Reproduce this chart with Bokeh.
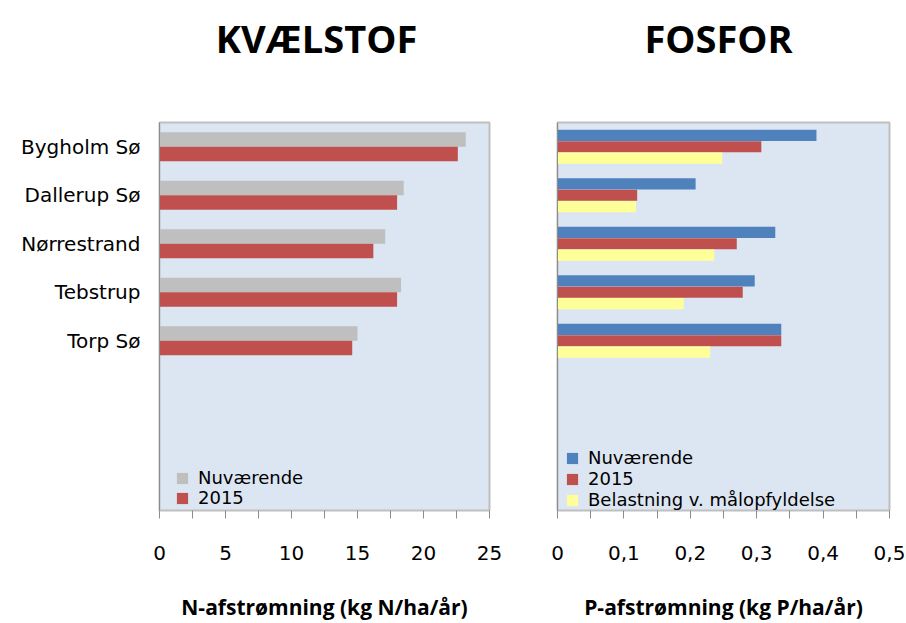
from bokeh.plotting import figure
from bokeh.models import (ColumnDataSource, Range1d, FixedTicker, Legend,
                          LegendItem, CustomJSTickFormatter)
from bokeh.core.properties import value
from bokeh.transform import dodge
from bokeh.layouts import row, column
from bokeh.embed import file_html
from bokeh.resources import INLINE

# ---- data ----
lakes = ["Bygholm Sø", "Dallerup Sø", "Nørrestrand", "Tebstrup", "Torp Sø"]
n_slots = 8  # five lakes plus three empty slots under them (legend area)

n_current = [23.2, 18.5, 17.1, 18.3, 15.0]
n_2015 = [22.6, 18.0, 16.2, 18.0, 14.6]

p_current = [0.39, 0.208, 0.328, 0.297, 0.337]
p_2015 = [0.307, 0.120, 0.270, 0.279, 0.337]
p_target = [0.248, 0.118, 0.236, 0.190, 0.230]

n_ticks = [0, 5, 10, 15, 20, 25]
n_minor = [2.5, 7.5, 12.5, 17.5, 22.5]
p_ticks = [0, 0.1, 0.2, 0.3, 0.4, 0.5]
p_minor = [0.05, 0.15, 0.25, 0.35, 0.45]

title_n = "KVÆLSTOF"
title_p = "FOSFOR"
xlabel_n = "N-afstrømning (kg N/ha/år)"
xlabel_p = "P-afstrømning (kg P/ha/år)"
label_current = "Nuværende"
label_2015 = "2015"
label_target = "Belastning v. målopfyldelse"

FONT = "DejaVu Sans"
BOLD = "Open Sans"
BG = "#DCE6F2"

W1, W2 = 510, 396
TITLE_H = 74
MAIN_H = 623 - TITLE_H

pos = [i + 0.5 for i in range(len(lakes))]

n_src = ColumnDataSource(dict(pos=pos, lake=lakes, cur=n_current, y15=n_2015))
p_src = ColumnDataSource(dict(pos=pos, lake=lakes, cur=p_current, y15=p_2015, tgt=p_target))


def title_fig(width, text, cx):
    t = figure(width=width, height=TITLE_H, output_backend="svg", toolbar_location=None,
               x_range=Range1d(0, width), y_range=Range1d(0, TITLE_H),
               x_axis_type=None, y_axis_type=None,
               min_border_left=0, min_border_right=0, min_border_top=0, min_border_bottom=0)
    t.outline_line_color = None
    t.background_fill_color = "white"
    t.border_fill_color = "white"
    t.xgrid.visible = False
    t.ygrid.visible = False
    t.text(x=[cx], y=[TITLE_H / 2], text=[text], text_align="center", text_baseline="middle",
           text_font=value(BOLD), text_font_style="bold", text_font_size="38px",
           text_color="black")
    return t


def style(p, xlabel, ticks, minor):
    p.background_fill_color = BG
    p.border_fill_color = "white"
    p.outline_line_color = "#BFBFBF"
    p.outline_line_width = 2
    p.xgrid.visible = False
    p.ygrid.visible = False
    ax = p.xaxis[0]
    ax.ticker = FixedTicker(ticks=ticks, minor_ticks=minor)
    ax.axis_label = xlabel
    ax.axis_label_text_font = BOLD
    ax.axis_label_text_font_style = "bold"
    ax.axis_label_text_font_size = "21px"
    ax.axis_label_text_color = "black"
    ax.axis_label_standoff = 30
    ax.major_label_text_font = FONT
    ax.major_label_text_font_size = "20px"
    ax.major_label_text_color = "black"
    ax.major_label_standoff = 27
    ax.axis_line_color = "#BFBFBF"
    ax.major_tick_line_color = "#8C8C8C"
    ax.minor_tick_line_color = "#8C8C8C"
    ax.major_tick_in = 0
    ax.major_tick_out = 8
    ax.minor_tick_in = 0
    ax.minor_tick_out = 8
    ay = p.yaxis[0]
    ay.axis_line_color = "#8C8C8C"
    ay.major_tick_line_color = None
    ay.minor_tick_line_color = None
    ay.major_tick_out = 0
    ay.major_tick_in = 0
    ay.minor_tick_out = 0
    ay.minor_tick_in = 0
    ay.major_label_text_font = FONT
    ay.major_label_text_font_size = "20px"
    ay.major_label_text_color = "black"
    ay.major_label_standoff = 19


def legend_row(p, label, renderer, x, y):
    leg = Legend(items=[LegendItem(label=label, renderers=[renderer])],
                 location=(x, y), orientation="vertical", padding=0, margin=0, spacing=0,
                 glyph_width=14, glyph_height=14, label_height=14, label_standoff=9,
                 label_text_font=FONT, label_text_font_size="18px", label_text_color="black",
                 background_fill_alpha=0, border_line_color=None)
    p.add_layout(leg)


# ---- titles ----
t1 = title_fig(W1, title_n, 316)
t2 = title_fig(W2, title_p, 208)

# ---- left: nitrogen ----
p1 = figure(width=W1, height=MAIN_H, output_backend="svg", toolbar_location=None,
            x_range=Range1d(0, 25), y_range=Range1d(n_slots, 0),
            min_border_left=159, min_border_right=21, min_border_top=48, min_border_bottom=112)
r1 = p1.hbar(y=dodge("pos", -0.15), right="cur", left=0, height=0.3,
             source=n_src, fill_color="#BFBFBF", line_color=None)
r2 = p1.hbar(y=dodge("pos", 0.15), right="y15", left=0, height=0.3,
             source=n_src, fill_color="#C0504D", line_color=None)
style(p1, xlabel_n, n_ticks, n_minor)
p1.yaxis[0].ticker = FixedTicker(ticks=pos, minor_ticks=[])
p1.yaxis[0].major_label_overrides = dict(zip(pos, lakes))
legend_row(p1, label_current, r1, 16, 22)
legend_row(p1, label_2015, r2, 16, 2)

# ---- right: phosphorus ----
p2 = figure(width=W2, height=MAIN_H, output_backend="svg", toolbar_location=None,
            x_range=Range1d(0, 0.5), y_range=Range1d(n_slots, 0),
            min_border_left=47, min_border_right=17, min_border_top=48, min_border_bottom=112)
s1 = p2.hbar(y=dodge("pos", -0.235), right="cur", left=0, height=0.23,
             source=p_src, fill_color="#4F81BD", line_color=None)
s2 = p2.hbar(y=dodge("pos", 0.0), right="y15", left=0, height=0.23,
             source=p_src, fill_color="#C0504D", line_color=None)
s3 = p2.hbar(y=dodge("pos", 0.235), right="tgt", left=0, height=0.23,
             source=p_src, fill_color="#FFFF99", line_color=None)
style(p2, xlabel_p, p_ticks, p_minor)
p2.xaxis[0].formatter = CustomJSTickFormatter(
    code="return tick === 0 ? '0' : tick.toFixed(1).replace('.', ',');")
p2.yaxis[0].ticker = FixedTicker(ticks=[], minor_ticks=[])
p2.yaxis[0].major_label_standoff = 0
legend_row(p2, label_current, s1, 8, 42)
legend_row(p2, label_2015, s2, 8, 21)
legend_row(p2, label_target, s3, 8, 0)

layout = column(row(t1, t2), row(p1, p2))
open("out.html", "w").write(file_html(layout, INLINE))
